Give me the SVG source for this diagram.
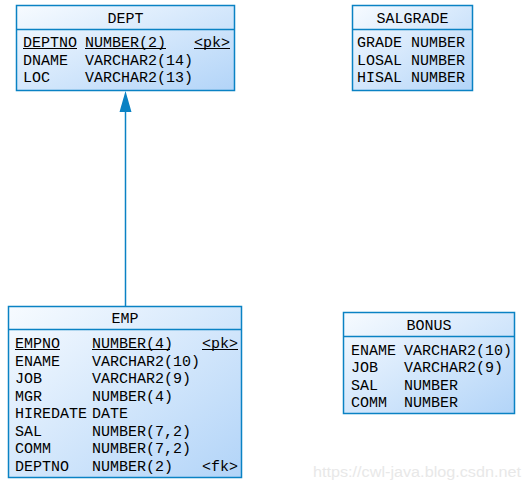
<svg xmlns="http://www.w3.org/2000/svg" width="530" height="490" viewBox="0 0 530 490">
<defs>
<linearGradient id="g" x1="0" y1="0" x2="1" y2="1">
<stop offset="0" stop-color="#f7fbff"/>
<stop offset="1" stop-color="#b2d4f8"/>
</linearGradient>
</defs>
<style>
.box{fill:url(#g);stroke:#0a82c4;stroke-width:1.5}
.sep{stroke:#0a82c4;stroke-width:1.5}
text{font-family:"Liberation Mono","DejaVu Sans Mono",monospace;font-size:15px;fill:#000}
.t{text-anchor:middle}
.u{stroke:#000;stroke-width:1}
.wm{font-family:"Liberation Sans",Arial,sans-serif;font-size:15.5px;fill:#e8e8e8}
</style>
<rect width="530" height="490" fill="#fff"/>
<g id="connectors">
<line x1="125.5" y1="110" x2="125.5" y2="306" stroke="#0a82c4" stroke-width="1.5"/>
<polygon points="125.5,91 131.5,112 119.5,112" fill="#0a82c4"/>
</g>
<g id="DEPT">
<rect class="box" x="16.5" y="5.5" width="218" height="85"/>
<line class="sep" x1="16.5" y1="29.5" x2="234.5" y2="29.5"/>
<text class="t" x="125.5" y="22.5">DEPT</text>
<text x="23" y="47">DEPTNO</text><text x="85" y="47">NUMBER(2)</text><text x="194" y="47">&lt;pk&gt;</text>
<line class="u" x1="23" y1="48.5" x2="77" y2="48.5"/>
<line class="u" x1="85" y1="48.5" x2="166" y2="48.5"/>
<line class="u" x1="194" y1="48.5" x2="230" y2="48.5"/>
<text x="23" y="64.5">DNAME</text><text x="85" y="64.5">VARCHAR2(14)</text>
<text x="23" y="82">LOC</text><text x="85" y="82">VARCHAR2(13)</text>
</g>
<g id="SALGRADE">
<rect class="box" x="352.5" y="5.5" width="120" height="85"/>
<line class="sep" x1="352.5" y1="29.5" x2="472.5" y2="29.5"/>
<text class="t" x="412.5" y="22.5">SALGRADE</text>
<text x="357" y="47">GRADE</text><text x="411" y="47">NUMBER</text>
<text x="357" y="64.5">LOSAL</text><text x="411" y="64.5">NUMBER</text>
<text x="357" y="82">HISAL</text><text x="411" y="82">NUMBER</text>
</g>
<g id="EMP">
<rect class="box" x="8.5" y="306.5" width="233" height="171"/>
<line class="sep" x1="8.5" y1="329.5" x2="241.5" y2="329.5"/>
<text class="t" x="125" y="323">EMP</text>
<text x="15" y="348">EMPNO</text><text x="92" y="348">NUMBER(4)</text><text x="202" y="348">&lt;pk&gt;</text>
<line class="u" x1="15" y1="349.5" x2="60" y2="349.5"/>
<line class="u" x1="92" y1="349.5" x2="170" y2="349.5"/>
<line class="u" x1="202" y1="349.5" x2="238" y2="349.5"/>
<text x="15" y="365.5">ENAME</text><text x="92" y="365.5">VARCHAR2(10)</text>
<text x="15" y="383">JOB</text><text x="92" y="383">VARCHAR2(9)</text>
<text x="15" y="400.5">MGR</text><text x="92" y="400.5">NUMBER(4)</text>
<text x="15" y="418">HIREDATE</text><text x="92" y="418">DATE</text>
<text x="15" y="435.5">SAL</text><text x="92" y="435.5">NUMBER(7,2)</text>
<text x="15" y="453">COMM</text><text x="92" y="453">NUMBER(7,2)</text>
<text x="15" y="471">DEPTNO</text><text x="92" y="471">NUMBER(2)</text><text x="202" y="471">&lt;fk&gt;</text>
</g>
<g id="BONUS">
<rect class="box" x="343.5" y="312.5" width="171" height="101"/>
<line class="sep" x1="343.5" y1="336.5" x2="514.5" y2="336.5"/>
<text class="t" x="429" y="330">BONUS</text>
<text x="351" y="354.5">ENAME</text><text x="404" y="354.5">VARCHAR2(10)</text>
<text x="351" y="372">JOB</text><text x="404" y="372">VARCHAR2(9)</text>
<text x="351" y="389.5">SAL</text><text x="404" y="389.5">NUMBER</text>
<text x="351" y="407">COMM</text><text x="404" y="407">NUMBER</text>
</g>
<text class="wm" x="313" y="477" textLength="208" lengthAdjust="spacingAndGlyphs">https://cwl-java.blog.csdn.net</text>
</svg>
